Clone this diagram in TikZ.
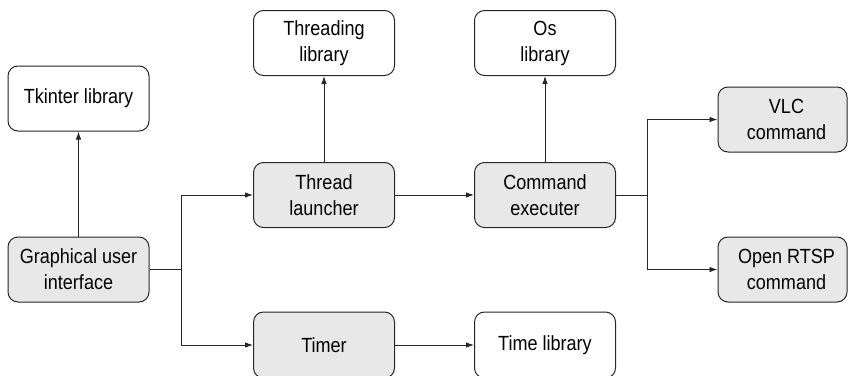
\documentclass[tikz,border=0pt]{standalone}
\usepackage{fontspec}
\setmainfont{Liberation Sans}[FakeStretch=0.88]
\usetikzlibrary{arrows.meta}
\begin{document}
\begin{tikzpicture}[x=1pt,y=-1pt,
  box/.style={draw=black!85, line width=1pt, rounded corners=10pt, align=center,
    font=\fontsize{20.5}{26}\selectfont, inner sep=0pt, minimum height=65pt, minimum width=141pt},
  wbox/.style={box, fill=white},
  gbox/.style={box, fill=black!9},
  conn/.style={draw=black!85, line width=0.9pt, -{Latex[length=8pt,width=5.5pt]}},
  plain/.style={draw=black!85, line width=0.9pt}]
\useasboundingbox (0,0) rectangle (850,375);
\node[wbox] (tk) at (78.5,98.5) {Tkinter library};
\node[gbox] (gui) at (78.5,269.5) {Graphical user\\interface};
\node[wbox] (thr) at (324,43) {Threading\\library};
\node[gbox] (tl) at (324,195) {Thread\\launcher};
\node[gbox, minimum height=66pt] (tim) at (324,345) {Timer};
\node[wbox] (os) at (545,43) {Os\\library};
\node[gbox] (ce) at (545,195) {Command\\executer};
\node[wbox, minimum height=66pt] (tlib) at (545,345) {Time library};
\node[gbox, minimum width=129pt] (vlc) at (782.5,119.5) {\hspace*{8pt}VLC\\\hspace*{8pt}command};
\node[gbox, minimum width=129pt] (rtsp) at (782.5,269.5) {\hspace*{8pt}Open RTSP\\\hspace*{8pt}command};
\coordinate (j1) at (181,269.5);
\coordinate (j2) at (647,195);
\draw[conn] (gui) -- (tk);
\draw[plain] (gui.east) -- (j1);
\draw[conn] (j1) |- (tl.west);
\draw[conn] (j1) |- (tim.west);
\draw[conn] (tl) -- (thr);
\draw[conn] (tl) -- (ce);
\draw[conn] (ce) -- (os);
\draw[conn] (tim) -- (tlib);
\draw[plain] (ce.east) -- (j2);
\draw[conn] (j2) |- (vlc.west);
\draw[conn] (j2) |- (rtsp.west);
\end{tikzpicture}
\end{document}
